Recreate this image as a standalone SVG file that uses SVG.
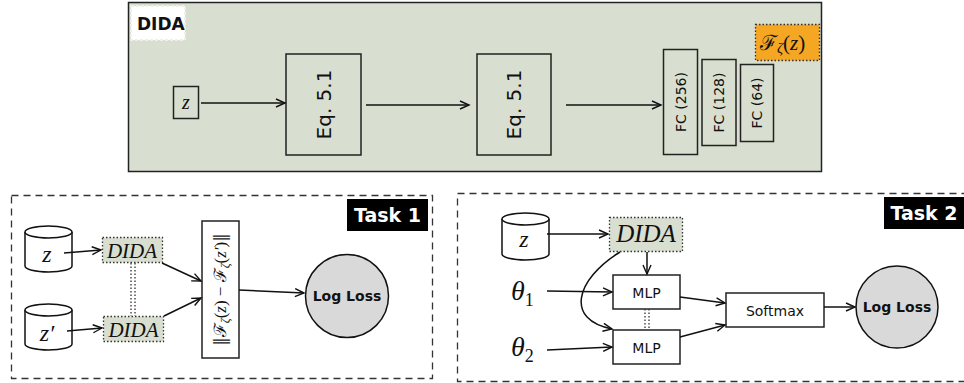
<svg xmlns="http://www.w3.org/2000/svg" width="964" height="383" viewBox="0 0 964 383">
  <defs>
    <marker id="arr" markerUnits="userSpaceOnUse" markerWidth="12" markerHeight="12" refX="10" refY="5" orient="auto">
      <path d="M1,1 L10,5 L1,9" fill="none" stroke="#111" stroke-width="1.4"/>
    </marker>
  </defs>
  <style>
    .frame { fill: #d9dfd0; stroke: #222; stroke-width: 1.5; }
    .box { fill: none; stroke: #222; stroke-width: 1.5; }
    .wbox { fill: #fff; stroke: #222; stroke-width: 1.5; }
    .dbox { fill: #d9dfd0; stroke: #333; stroke-width: 1.3; stroke-dasharray: 1.5 2; }
    .task { fill: none; stroke: #333; stroke-width: 1.3; stroke-dasharray: 7 5; }
    .circ { fill: #d9d9d9; stroke: #111; stroke-width: 1.5; }
    .cyl { fill: #fff; stroke: #111; stroke-width: 1.5; }
    .edge { fill: none; stroke: #111; stroke-width: 1.5; marker-end: url(#arr); }
    .dots { fill: none; stroke: #333; stroke-width: 1.3; stroke-dasharray: 1.5 2; }
    .sans { font-family: "DejaVu Sans", sans-serif; fill: #111; }
    .bold { font-family: "DejaVu Sans", sans-serif; font-weight: bold; fill: #111; }
    .math { font-family: "Liberation Serif", "DejaVu Serif", serif; font-style: italic; fill: #111; }
    .scr { font-family: "DejaVu Serif", "Liberation Serif", serif; fill: #111; }
    .lab { fill: #000; }
    .labt { font-family: "DejaVu Sans", sans-serif; font-weight: bold; fill: #fff; font-size: 19px; }
  </style>

  <!-- DIDA architecture panel -->
  <g id="dida-panel">
    <rect class="frame" x="128.5" y="2.5" width="693" height="169"/>
    <rect x="131" y="6" width="54" height="34" fill="#fff" stroke="#eef0ea" stroke-width="2" stroke-dasharray="3 2"/>
    <text class="bold" x="137" y="30" font-size="17">DIDA</text>
  </g>
  <g id="dida-z">
    <rect class="box" x="173.5" y="86.5" width="25" height="32"/>
    <text class="math" x="186" y="109" font-size="20" text-anchor="middle" font-style="normal">z</text>
  </g>
  <g id="eq1">
    <rect class="box" x="286" y="54" width="75" height="101"/>
    <text class="sans" font-size="20" text-anchor="middle" transform="translate(330.5,104.5) rotate(-90)">Eq. 5.1</text>
  </g>
  <g id="eq2">
    <rect class="box" x="477" y="54" width="74" height="101"/>
    <text class="sans" font-size="20" text-anchor="middle" transform="translate(521,104.5) rotate(-90)">Eq. 5.1</text>
  </g>
  <g id="fc256">
    <rect class="box" x="663.5" y="49.5" width="34" height="105"/>
    <text class="sans" font-size="14" text-anchor="middle" transform="translate(685.5,102) rotate(-90)">FC (256)</text>
  </g>
  <g id="fc128">
    <rect class="box" x="702" y="59.5" width="34" height="86"/>
    <text class="sans" font-size="14" text-anchor="middle" transform="translate(724,102.5) rotate(-90)">FC (128)</text>
  </g>
  <g id="fc64">
    <rect class="box" x="740.5" y="64.5" width="33" height="77"/>
    <text class="sans" font-size="14" text-anchor="middle" transform="translate(762,103) rotate(-90)">FC (64)</text>
  </g>
  <g id="fzeta">
    <rect x="755.5" y="24.5" width="64" height="36" fill="#f5a623" stroke="#333" stroke-width="1.3" stroke-dasharray="1.5 2"/>
    <text class="scr" x="760" y="50" font-size="21">ℱ<tspan class="math" font-size="15" dy="3">ζ</tspan><tspan dy="-3" font-family="Liberation Serif, serif">(</tspan><tspan class="math">z</tspan><tspan font-family="Liberation Serif, serif">)</tspan></text>
  </g>

  <!-- Task 1 -->
  <g id="task1">
    <rect class="task" x="11.5" y="195.5" width="421" height="183"/>
    <rect class="lab" x="347" y="199" width="81" height="32"/>
    <text class="labt" x="387.5" y="222" text-anchor="middle">Task 1</text>
  </g>
  <g id="t1-z">
    <path class="cyl" d="M25,232 A23.5,6 0 0 1 72,232 L72,266 A23.5,6 0 0 1 25,266 Z"/>
    <path class="cyl" d="M25,232 A23.5,6 0 0 0 72,232"/>
    <text class="math" x="47" y="262" font-size="24" text-anchor="middle">z</text>
  </g>
  <g id="t1-zp">
    <path class="cyl" d="M25,310 A23.5,6 0 0 1 72,310 L72,344 A23.5,6 0 0 1 25,344 Z"/>
    <path class="cyl" d="M25,310 A23.5,6 0 0 0 72,310"/>
    <text class="math" x="47" y="341" font-size="24" text-anchor="middle">z′</text>
  </g>
  <g id="t1-dida1">
    <rect class="dbox" x="102.5" y="237.5" width="60" height="25"/>
    <text class="math" x="132" y="258" font-size="21" text-anchor="middle">DIDA</text>
  </g>
  <g id="t1-dida2">
    <rect class="dbox" x="103.5" y="316.5" width="60" height="25"/>
    <text class="math" x="133.5" y="337" font-size="21" text-anchor="middle">DIDA</text>
  </g>
  <g id="t1-norm">
    <rect class="wbox" x="202" y="221" width="37" height="137"/>
    <text class="scr" font-size="17" text-anchor="middle" transform="translate(226,289.5) rotate(-90)">‖ℱ<tspan class="math" font-size="12" dy="3">ζ</tspan><tspan dy="-3" font-family="Liberation Serif, serif">(</tspan><tspan class="math">z</tspan><tspan font-family="Liberation Serif, serif">)  −  </tspan>ℱ<tspan class="math" font-size="12" dy="3">ζ</tspan><tspan dy="-3" font-family="Liberation Serif, serif">(</tspan><tspan class="math">z′</tspan><tspan font-family="Liberation Serif, serif">)</tspan>‖</text>
  </g>
  <g id="t1-loss">
    <circle class="circ" cx="347" cy="296" r="41.5"/>
    <text class="bold" x="347" y="301" font-size="14" text-anchor="middle">Log Loss</text>
  </g>

  <!-- Task 2 -->
  <g id="task2">
    <rect class="task" x="457.5" y="193.5" width="520" height="188"/>
    <rect class="lab" x="884" y="197" width="80" height="32"/>
    <text class="labt" x="924" y="220" text-anchor="middle">Task 2</text>
  </g>
  <g id="t2-z">
    <path class="cyl" d="M502,219 A23.5,6 0 0 1 549,219 L549,254 A23.5,6 0 0 1 502,254 Z"/>
    <path class="cyl" d="M502,219 A23.5,6 0 0 0 549,219"/>
    <text class="math" x="524" y="247" font-size="24" text-anchor="middle">z</text>
  </g>
  <g id="t2-dida">
    <rect class="dbox" x="609.5" y="217.5" width="73" height="34"/>
    <text class="math" x="646" y="242" font-size="25" text-anchor="middle">DIDA</text>
  </g>
  <g id="t2-theta1">
    <text class="math" x="511" y="300" font-size="28">θ<tspan font-style="normal" font-size="18" dy="6">1</tspan></text>
  </g>
  <g id="t2-theta2">
    <text class="math" x="511" y="356" font-size="28">θ<tspan font-style="normal" font-size="18" dy="6">2</tspan></text>
  </g>
  <g id="t2-mlp1">
    <rect class="wbox" x="613" y="275" width="67" height="34"/>
    <text class="sans" x="646.5" y="298" font-size="14" text-anchor="middle">MLP</text>
  </g>
  <g id="t2-mlp2">
    <rect class="wbox" x="613" y="330" width="67" height="34"/>
    <text class="sans" x="646.5" y="353" font-size="14" text-anchor="middle">MLP</text>
  </g>
  <g id="t2-softmax">
    <rect class="wbox" x="726" y="293" width="98" height="34"/>
    <text class="sans" x="775" y="316" font-size="14" text-anchor="middle">Softmax</text>
  </g>
  <g id="t2-loss">
    <circle class="circ" cx="897" cy="307" r="41"/>
    <text class="bold" x="897" y="312" font-size="14" text-anchor="middle">Log Loss</text>
  </g>

  <!-- connectors -->
  <g id="connectors">
    <path class="edge" d="M201,103 L285,103"/>
    <path class="edge" d="M366,105 L469,105"/>
    <path class="edge" d="M566,105 L661,105"/>

    <path class="edge" d="M64,253 L101,250"/>
    <path class="edge" d="M67,331 L102,328"/>
    <path class="dots" d="M131,263 L131,316 M135,263 L135,316"/>
    <path class="edge" d="M162,263 L201,281"/>
    <path class="edge" d="M164,316 L201,298"/>
    <path class="edge" d="M239,290 L304,293"/>

    <path class="edge" d="M547,234 L608,234"/>
    <path class="edge" d="M647,252 L647,274"/>
    <path class="edge" d="M620,252 C575,280 565,320 612,329"/>
    <path class="edge" d="M547,291 L612,292"/>
    <path class="edge" d="M547,350 L612,347"/>
    <path class="dots" d="M645,309 L645,330 M649,309 L649,330"/>
    <path class="edge" d="M680,297 L725,303"/>
    <path class="edge" d="M680,337 L725,325"/>
    <path class="edge" d="M824,307 L855,307"/>
  </g>
</svg>
